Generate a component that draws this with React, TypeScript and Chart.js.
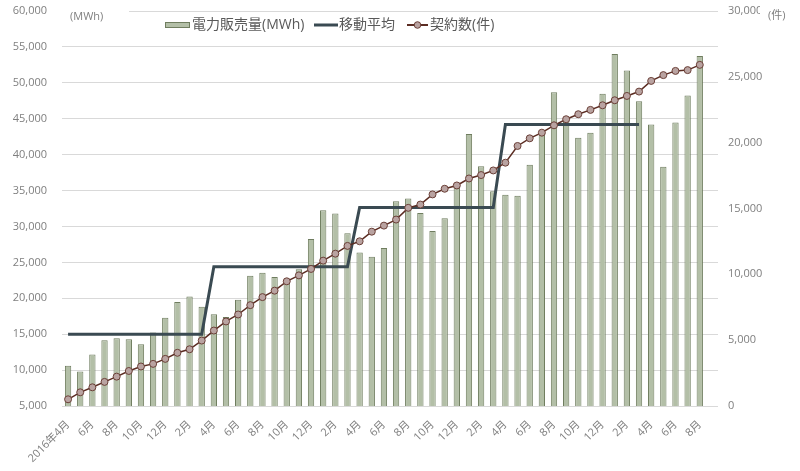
import React, { useEffect, useRef } from "react";
import { Chart, registerables } from "chart.js";

Chart.register(...registerables);

const months: string[] = [
  "2016年4月", "5月", "6月", "7月", "8月", "9月", "10月", "11月", "12月", "1月", "2月", "3月",
  "4月", "5月", "6月", "7月", "8月", "9月", "10月", "11月", "12月", "1月", "2月", "3月",
  "4月", "5月", "6月", "7月", "8月", "9月", "10月", "11月", "12月", "1月", "2月", "3月",
  "4月", "5月", "6月", "7月", "8月", "9月", "10月", "11月", "12月", "1月", "2月", "3月",
  "4月", "5月", "6月", "7月", "8月", "",
];

const sales: (number | null)[] = [
  10620, 9790, 12160, 14160, 14440, 14300, 13600, 15230, 17280, 19470, 20250, 18810,
  17790, 17380, 19790, 23140, 23560, 22960, 22500, 24030, 28260, 32250, 31790, 29050,
  26390, 25790, 27000, 33510, 33880, 31890, 29370, 31140, 36000, 42860, 38390, 34900,
  34400, 34260, 38580, 42900, 48700, 45000, 42350, 43050, 48490, 54020, 51700, 47420,
  44210, 38300, 44490, 48250, 53740, null,
];

const movingAvg: (number | null)[] = [
  15000, 15000, 15000, 15000, 15000, 15000, 15000, 15000, 15000, 15000, 15000, 15000,
  24400, 24400, 24400, 24400, 24400, 24400, 24400, 24400, 24400, 24400, 24400, 24400,
  32650, 32650, 32650, 32650, 32650, 32650, 32650, 32650, 32650, 32650, 32650, 32650,
  44200, 44200, 44200, 44200, 44200, 44200, 44200, 44200, 44200, 44200, 44200, 44200,
  null, null, null, null, null, null,
];

const contracts: (number | null)[] = [
  510, 1040, 1420, 1830, 2230, 2660, 3000, 3200, 3580, 4040, 4310, 4970,
  5730, 6420, 6950, 7660, 8270, 8760, 9470, 9920, 10410, 11040, 11570, 12160,
  12510, 13240, 13700, 14160, 15050, 15300, 16070, 16500, 16750, 17280, 17540, 17890,
  18480, 19750, 20330, 20760, 21320, 21780, 22160, 22490, 22840, 23220, 23550, 23880,
  24690, 25130, 25450, 25510, 25910, null,
];

const seriesNames = ["電力販売量(MWh)", "移動平均", "契約数(件)"];
const leftUnit = "(MWh)";
const rightUnit = "(件)";

const BAR_FILL = "#b3bfa7";
const BAR_BORDER = "#6f7d5f";
const MA_COLOR = "#3a4a52";
const CT_COLOR = "#5b2c22";
const CT_POINT = "#b9a3a1";
const FONT = "'Open Sans', 'Noto Sans CJK JP', sans-serif";

const overlayPlugin = {
  id: "overlay",
  afterDraw(chart: any) {
    const ctx = chart.ctx as CanvasRenderingContext2D;
    ctx.save();
    // unit labels
    ctx.fillStyle = "#ffffff";
    ctx.fillRect(62, 5, 67, 13);
    ctx.fillRect(760, 4, 40, 20);
    ctx.fillStyle = "#7f7f7f";
    ctx.font = `11px ${FONT}`;
    ctx.textBaseline = "middle";
    ctx.textAlign = "left";
    ctx.fillText(leftUnit, 70, 17);
    ctx.fillText(rightUnit, 768, 16);

    // legend
    const ly = 25;
    ctx.font = `14px ${FONT}`;
    ctx.fillStyle = BAR_FILL;
    ctx.fillRect(165, 22.5, 24, 5);
    ctx.strokeStyle = BAR_BORDER;
    ctx.lineWidth = 1;
    ctx.strokeRect(165.5, 22.5, 24, 5);
    ctx.fillStyle = "#595959";
    ctx.fillText(seriesNames[0], 192, ly);
    ctx.strokeStyle = MA_COLOR;
    ctx.lineWidth = 3;
    ctx.beginPath();
    ctx.moveTo(314, ly);
    ctx.lineTo(338, ly);
    ctx.stroke();
    ctx.fillText(seriesNames[1], 339, ly);
    ctx.strokeStyle = CT_COLOR;
    ctx.lineWidth = 2;
    ctx.beginPath();
    ctx.moveTo(407, ly);
    ctx.lineTo(428, ly);
    ctx.stroke();
    ctx.beginPath();
    ctx.arc(417.5, ly, 3.3, 0, Math.PI * 2);
    ctx.fillStyle = CT_POINT;
    ctx.fill();
    ctx.lineWidth = 1;
    ctx.strokeStyle = "#6b4038";
    ctx.stroke();
    ctx.fillStyle = "#595959";
    ctx.fillText(seriesNames[2], 430, ly);
    ctx.restore();
  },
};

export default function App() {
  const ref = useRef<HTMLCanvasElement | null>(null);

  useEffect(() => {
    if (!ref.current) return;
    const chart = new Chart(ref.current, {
      type: "bar",
      data: {
        labels: months,
        datasets: [
          {
            type: "line",
            label: seriesNames[2],
            data: contracts,
            yAxisID: "y1",
            borderColor: CT_COLOR,
            borderWidth: 1.5,
            pointRadius: 3.5,
            pointBackgroundColor: CT_POINT,
            pointBorderColor: "#6b4038",
            pointBorderWidth: 1,
            tension: 0,
            order: 1,
          } as any,
          {
            type: "line",
            label: seriesNames[1],
            data: movingAvg,
            yAxisID: "y",
            borderColor: MA_COLOR,
            borderWidth: 3,
            pointRadius: 0,
            tension: 0,
            spanGaps: false,
            order: 2,
          } as any,
          {
            type: "bar",
            label: seriesNames[0],
            data: sales,
            yAxisID: "y",
            backgroundColor: BAR_FILL,
            borderColor: BAR_BORDER,
            borderWidth: 1,
            categoryPercentage: 1,
            barPercentage: 0.52,
            order: 3,
          } as any,
        ],
      },
      options: {
        responsive: false,
        animation: false,
        layout: { padding: { top: 11, left: 0, right: 0, bottom: 0 } },
        plugins: {
          legend: { display: false },
          tooltip: { enabled: false },
        },
        scales: {
          x: {
            grid: { display: false },
            border: { display: false },
            ticks: {
              autoSkip: false,
              minRotation: 45,
              maxRotation: 45,
              padding: 4,
              color: "#7f7f7f",
              font: { family: FONT, size: 11 },
              callback: (_v: any, i: number) => (i % 2 === 0 ? months[i] : ""),
            },
            afterFit: (s: any) => {
              s.height = 65;
              s.paddingLeft = 0;
              s.paddingRight = 0;
            },
          },
          y: {
            position: "left",
            min: 5000,
            max: 60000,
            grid: { color: "#d9d9d9", lineWidth: 1, drawTicks: false },
            border: { display: false },
            ticks: {
              stepSize: 5000,
              padding: 15,
              color: "#7f7f7f",
              font: { family: FONT, size: 11 },
              callback: (v: any) => Number(v).toLocaleString("en-US"),
            },
            afterFit: (s: any) => {
              s.width = 62;
              s.paddingTop = 0;
              s.paddingBottom = 0;
            },
          },
          y1: {
            position: "right",
            min: 0,
            max: 30000,
            grid: { display: false, drawTicks: false },
            border: { display: false },
            ticks: {
              stepSize: 5000,
              padding: 10,
              color: "#7f7f7f",
              font: { family: FONT, size: 11 },
              callback: (v: any) => Number(v).toLocaleString("en-US"),
            },
            afterFit: (s: any) => {
              s.width = 82;
              s.paddingTop = 0;
              s.paddingBottom = 0;
            },
          },
        },
      },
      plugins: [overlayPlugin],
    });
    return () => chart.destroy();
  }, []);

  return (
    <div style={{ position: "absolute", left: 0, top: 0, width: 800, height: 471, background: "#fff" }}>
      <canvas ref={ref} width={800} height={471} />
    </div>
  );
}
